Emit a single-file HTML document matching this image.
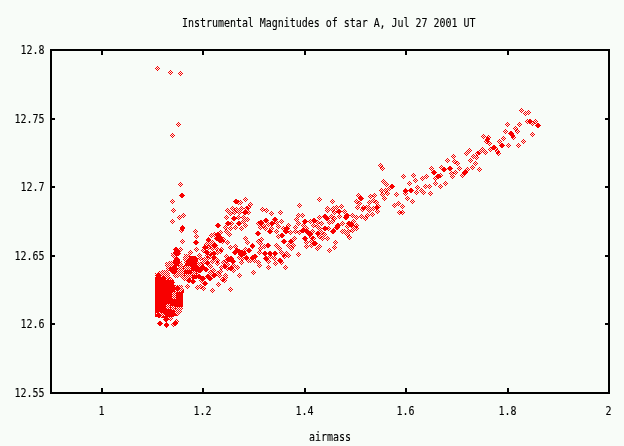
<!DOCTYPE html>
<html><head><meta charset="utf-8"><style>
html,body{margin:0;padding:0;background:#f8fcf8;}
svg{display:block;}
text{font-family:"DejaVu Sans Mono","Liberation Mono",monospace;letter-spacing:-0.02px;font-size:10px;fill:#000;stroke:#000;stroke-width:0.1px;}
</style></head><body>
<svg width="624" height="446" viewBox="0 0 624 446">
<defs>
<pattern id="pe" width="2" height="2" patternUnits="userSpaceOnUse"><rect x="0" y="0" width="1" height="1" fill="#f80000"/><rect x="1" y="1" width="1" height="1" fill="#f80000"/></pattern>
<pattern id="po" width="2" height="2" patternUnits="userSpaceOnUse"><rect x="1" y="0" width="1" height="1" fill="#f80000"/><rect x="0" y="1" width="1" height="1" fill="#f80000"/></pattern>
<pattern id="pb" width="2" height="2" patternUnits="userSpaceOnUse"><rect x="1" y="0" width="1" height="1" fill="#f8fcf8"/><rect x="0" y="1" width="1" height="1" fill="#f8fcf8"/></pattern>
</defs>
<rect width="624" height="446" fill="#f8fcf8"/>
<g shape-rendering="crispEdges">
<rect x="50" y="49" width="560" height="2" fill="#000"/><rect x="50" y="392" width="560" height="2" fill="#000"/><rect x="50" y="49" width="2" height="345" fill="#000"/><rect x="608" y="49" width="2" height="345" fill="#000"/><rect x="52" y="118" width="3" height="2" fill="#000"/><rect x="605" y="118" width="3" height="2" fill="#000"/><rect x="52" y="186" width="3" height="2" fill="#000"/><rect x="605" y="186" width="3" height="2" fill="#000"/><rect x="52" y="255" width="3" height="2" fill="#000"/><rect x="605" y="255" width="3" height="2" fill="#000"/><rect x="52" y="323" width="3" height="2" fill="#000"/><rect x="605" y="323" width="3" height="2" fill="#000"/><rect x="101" y="388" width="2" height="4" fill="#000"/><rect x="101" y="51" width="2" height="4" fill="#000"/><rect x="202" y="388" width="2" height="4" fill="#000"/><rect x="202" y="51" width="2" height="4" fill="#000"/><rect x="304" y="388" width="2" height="4" fill="#000"/><rect x="304" y="51" width="2" height="4" fill="#000"/><rect x="405" y="388" width="2" height="4" fill="#000"/><rect x="405" y="51" width="2" height="4" fill="#000"/><rect x="507" y="388" width="2" height="4" fill="#000"/><rect x="507" y="51" width="2" height="4" fill="#000"/>
</g>
<path fill="#f80000" shape-rendering="crispEdges" d="M155 277 162 277 164 280 173.6 280 173.6 284 175 285 182 285 183.75 289 183.75 291 183 297 183 305 182.5 310 181 313 178 316 170 317 165 318 160 318 155 317zM189 257 195 256 198 259 197 264 200 267.5 199 272 193 272 190 269 186 267 185 264 187 260zM173 252 180 252 180 254 176 256 173 254zM174 258 178 257 180 260 179 266 175 267 173 263zM169 268 174 266 178 268 177 273 172 274 169 271zM189 256 195 256 197 258 197 279 185 279 184 272 183 266 186 263 189 261z"/>
<path fill="url(#pb)" shape-rendering="crispEdges" d="M175 285 182 285 183.75 289 181 291.75 175 291.75zM172 292 176 292 176 298.6 172 298.6zM165.6 303.6 170 303.6 170 308.6 165.6 308.6zM170.6 306 175 306 175 310 170.6 310zM176 307 182.5 307 182.5 313 178 316 175 313zM156 313 160 312 166 315 160 318 156 318zM184 266 190.5 266 190.5 269.5 184 269.5zM192 271 195.5 271 195.5 274.5 192 274.5zM185 274 192 274 192 279 185 279z"/>
<path fill="url(#pe)" shape-rendering="crispEdges" d="M171 253 177 253 177 259 173 259 171 256zM165 262 172 261 175 266 174 271 168 271 165 266zM178 260 182 261 184 268 184 278 180 278 178 270zM158 271 166 270 170 273 170 279 158 279zM184 254 190 254 193 258 190 264 185 264 183 259zM155 273 160 271.5 164 275 164 280 155 277zM172.6 271 180 270 182 274 178 278 174 278 172.6 275z"/>
<path fill="url(#pe)" d="M170.5 69.5l3 3-3 3-3-3zM178.5 121.5l3 3-3 3-3-3zM180.5 181.5l3 3-3 3-3-3zM181.5 192.5l3 3-3 3-3-3zM179.5 214.5l3 3-3 3-3-3zM183.5 212.5l3 3-3 3-3-3zM195.5 228.5l3 3-3 3-3-3zM196.5 233.5l3 3-3 3-3-3zM217.5 222.5l3 3-3 3-3-3zM220.5 229.5l3 3-3 3-3-3zM214.5 231.5l3 3-3 3-3-3zM218.5 233.5l3 3-3 3-3-3zM211.5 232.5l3 3-3 3-3-3zM182.5 225.5l3 3-3 3-3-3zM218.5 231.5l3 3-3 3-3-3zM219.5 234.5l3 3-3 3-3-3zM216.5 235.5l3 3-3 3-3-3zM245.5 196.5l3 3-3 3-3-3zM235.5 198.5l3 3-3 3-3-3zM238.5 199.5l3 3-3 3-3-3zM240.5 199.5l3 3-3 3-3-3zM250.5 201.5l3 3-3 3-3-3zM232.5 205.5l3 3-3 3-3-3zM246.5 205.5l3 3-3 3-3-3zM244.5 209.5l3 3-3 3-3-3zM248.5 209.5l3 3-3 3-3-3zM234.5 209.5l3 3-3 3-3-3zM234.5 215.5l3 3-3 3-3-3zM243.5 214.5l3 3-3 3-3-3zM247.5 216.5l3 3-3 3-3-3zM227.5 220.5l3 3-3 3-3-3zM239.5 220.5l3 3-3 3-3-3zM243.5 218.5l3 3-3 3-3-3zM231.5 220.5l3 3-3 3-3-3zM245.5 222.5l3 3-3 3-3-3zM225.5 224.5l3 3-3 3-3-3zM235.5 224.5l3 3-3 3-3-3zM230.5 225.5l3 3-3 3-3-3zM266.5 207.5l3 3-3 3-3-3zM271.5 210.5l3 3-3 3-3-3zM280.5 209.5l3 3-3 3-3-3zM260.5 219.5l3 3-3 3-3-3zM266.5 217.5l3 3-3 3-3-3zM275.5 216.5l3 3-3 3-3-3zM271.5 220.5l3 3-3 3-3-3zM276.5 219.5l3 3-3 3-3-3zM281.5 218.5l3 3-3 3-3-3zM263.5 222.5l3 3-3 3-3-3zM268.5 221.5l3 3-3 3-3-3zM278.5 223.5l3 3-3 3-3-3zM286.5 225.5l3 3-3 3-3-3zM295.5 224.5l3 3-3 3-3-3zM257.5 230.5l3 3-3 3-3-3zM269.5 228.5l3 3-3 3-3-3zM281.5 232.5l3 3-3 3-3-3zM285.5 228.5l3 3-3 3-3-3zM290.5 229.5l3 3-3 3-3-3zM295.5 228.5l3 3-3 3-3-3zM223.5 236.5l3 3-3 3-3-3zM261.5 236.5l3 3-3 3-3-3zM278.5 233.5l3 3-3 3-3-3zM283.5 238.5l3 3-3 3-3-3zM291.5 238.5l3 3-3 3-3-3zM294.5 235.5l3 3-3 3-3-3zM293.5 242.5l3 3-3 3-3-3zM267.5 242.5l3 3-3 3-3-3zM260.5 245.5l3 3-3 3-3-3zM264.5 243.5l3 3-3 3-3-3zM265.5 250.5l3 3-3 3-3-3zM269.5 250.5l3 3-3 3-3-3zM275.5 250.5l3 3-3 3-3-3zM298.5 251.5l3 3-3 3-3-3zM254.5 253.5l3 3-3 3-3-3zM254.5 257.5l3 3-3 3-3-3zM258.5 259.5l3 3-3 3-3-3zM259.5 262.5l3 3-3 3-3-3zM266.5 255.5l3 3-3 3-3-3zM270.5 253.5l3 3-3 3-3-3zM274.5 255.5l3 3-3 3-3-3zM275.5 260.5l3 3-3 3-3-3zM280.5 257.5l3 3-3 3-3-3zM284.5 253.5l3 3-3 3-3-3zM225.5 274.5l3 3-3 3-3-3zM224.5 277.5l3 3-3 3-3-3zM285.5 264.5l3 3-3 3-3-3zM319.5 196.5l3 3-3 3-3-3zM360.5 195.5l3 3-3 3-3-3zM359.5 200.5l3 3-3 3-3-3zM370.5 193.5l3 3-3 3-3-3zM376.5 199.5l3 3-3 3-3-3zM363.5 204.5l3 3-3 3-3-3zM377.5 204.5l3 3-3 3-3-3zM299.5 202.5l3 3-3 3-3-3zM339.5 208.5l3 3-3 3-3-3zM334.5 209.5l3 3-3 3-3-3zM357.5 204.5l3 3-3 3-3-3zM377.5 208.5l3 3-3 3-3-3zM324.5 213.5l3 3-3 3-3-3zM326.5 215.5l3 3-3 3-3-3zM319.5 214.5l3 3-3 3-3-3zM334.5 215.5l3 3-3 3-3-3zM347.5 212.5l3 3-3 3-3-3zM345.5 214.5l3 3-3 3-3-3zM367.5 212.5l3 3-3 3-3-3zM372.5 211.5l3 3-3 3-3-3zM305.5 218.5l3 3-3 3-3-3zM314.5 217.5l3 3-3 3-3-3zM321.5 220.5l3 3-3 3-3-3zM337.5 222.5l3 3-3 3-3-3zM337.5 224.5l3 3-3 3-3-3zM349.5 220.5l3 3-3 3-3-3zM353.5 218.5l3 3-3 3-3-3zM352.5 223.5l3 3-3 3-3-3zM303.5 222.5l3 3-3 3-3-3zM306.5 225.5l3 3-3 3-3-3zM313.5 222.5l3 3-3 3-3-3zM324.5 225.5l3 3-3 3-3-3zM328.5 225.5l3 3-3 3-3-3zM302.5 227.5l3 3-3 3-3-3zM307.5 228.5l3 3-3 3-3-3zM310.5 231.5l3 3-3 3-3-3zM317.5 230.5l3 3-3 3-3-3zM324.5 231.5l3 3-3 3-3-3zM333.5 228.5l3 3-3 3-3-3zM352.5 227.5l3 3-3 3-3-3zM356.5 225.5l3 3-3 3-3-3zM349.5 234.5l3 3-3 3-3-3zM304.5 235.5l3 3-3 3-3-3zM311.5 234.5l3 3-3 3-3-3zM322.5 235.5l3 3-3 3-3-3zM306.5 239.5l3 3-3 3-3-3zM311.5 238.5l3 3-3 3-3-3zM315.5 240.5l3 3-3 3-3-3zM306.5 243.5l3 3-3 3-3-3zM311.5 242.5l3 3-3 3-3-3zM382.5 165.5l3 3-3 3-3-3zM413.5 172.5l3 3-3 3-3-3zM422.5 175.5l3 3-3 3-3-3zM426.5 173.5l3 3-3 3-3-3zM434.5 169.5l3 3-3 3-3-3zM438.5 173.5l3 3-3 3-3-3zM441.5 164.5l3 3-3 3-3-3zM443.5 166.5l3 3-3 3-3-3zM450.5 165.5l3 3-3 3-3-3zM451.5 170.5l3 3-3 3-3-3zM452.5 173.5l3 3-3 3-3-3zM435.5 180.5l3 3-3 3-3-3zM440.5 183.5l3 3-3 3-3-3zM445.5 180.5l3 3-3 3-3-3zM417.5 184.5l3 3-3 3-3-3zM416.5 189.5l3 3-3 3-3-3zM410.5 187.5l3 3-3 3-3-3zM409.5 180.5l3 3-3 3-3-3zM405.5 188.5l3 3-3 3-3-3zM405.5 190.5l3 3-3 3-3-3zM396.5 191.5l3 3-3 3-3-3zM383.5 178.5l3 3-3 3-3-3zM386.5 181.5l3 3-3 3-3-3zM392.5 183.5l3 3-3 3-3-3zM382.5 191.5l3 3-3 3-3-3zM387.5 190.5l3 3-3 3-3-3zM384.5 195.5l3 3-3 3-3-3zM402.5 203.5l3 3-3 3-3-3zM402.5 209.5l3 3-3 3-3-3zM378.5 203.5l3 3-3 3-3-3zM525.5 110.5l3 3-3 3-3-3zM528.5 109.5l3 3-3 3-3-3zM527.5 118.5l3 3-3 3-3-3zM529.5 118.5l3 3-3 3-3-3zM532.5 131.5l3 3-3 3-3-3zM517.5 128.5l3 3-3 3-3-3zM505.5 128.5l3 3-3 3-3-3zM511.5 130.5l3 3-3 3-3-3zM513.5 134.5l3 3-3 3-3-3zM523.5 138.5l3 3-3 3-3-3zM499.5 138.5l3 3-3 3-3-3zM501.5 142.5l3 3-3 3-3-3zM487.5 136.5l3 3-3 3-3-3zM489.5 140.5l3 3-3 3-3-3zM493.5 144.5l3 3-3 3-3-3zM497.5 148.5l3 3-3 3-3-3zM477.5 150.5l3 3-3 3-3-3zM470.5 157.5l3 3-3 3-3-3zM475.5 160.5l3 3-3 3-3-3zM479.5 166.5l3 3-3 3-3-3zM467.5 166.5l3 3-3 3-3-3zM464.5 169.5l3 3-3 3-3-3zM457.5 160.5l3 3-3 3-3-3zM535.5 118.5l3 3-3 3-3-3zM537.5 122.5l3 3-3 3-3-3zM196.5 239.5l3 3-3 3-3-3zM175.5 246.5l3 3-3 3-3-3zM190.5 249.5l3 3-3 3-3-3zM199.5 252.5l3 3-3 3-3-3zM196.5 259.5l3 3-3 3-3-3zM200.5 255.5l3 3-3 3-3-3zM200.5 261.5l3 3-3 3-3-3zM196.5 263.5l3 3-3 3-3-3zM176.5 247.5l3 3-3 3-3-3zM177.5 248.5l3 3-3 3-3-3zM177.5 250.5l3 3-3 3-3-3zM208.5 237.5l3 3-3 3-3-3zM212.5 239.5l3 3-3 3-3-3zM220.5 237.5l3 3-3 3-3-3zM206.5 241.5l3 3-3 3-3-3zM210.5 241.5l3 3-3 3-3-3zM215.5 242.5l3 3-3 3-3-3zM205.5 244.5l3 3-3 3-3-3zM212.5 245.5l3 3-3 3-3-3zM216.5 245.5l3 3-3 3-3-3zM221.5 246.5l3 3-3 3-3-3zM252.5 243.5l3 3-3 3-3-3zM236.5 247.5l3 3-3 3-3-3zM242.5 249.5l3 3-3 3-3-3zM245.5 246.5l3 3-3 3-3-3zM248.5 247.5l3 3-3 3-3-3zM234.5 249.5l3 3-3 3-3-3zM206.5 249.5l3 3-3 3-3-3zM213.5 250.5l3 3-3 3-3-3zM207.5 252.5l3 3-3 3-3-3zM210.5 253.5l3 3-3 3-3-3zM213.5 254.5l3 3-3 3-3-3zM226.5 253.5l3 3-3 3-3-3zM230.5 255.5l3 3-3 3-3-3zM232.5 257.5l3 3-3 3-3-3zM239.5 254.5l3 3-3 3-3-3zM242.5 255.5l3 3-3 3-3-3zM246.5 255.5l3 3-3 3-3-3zM250.5 257.5l3 3-3 3-3-3zM253.5 254.5l3 3-3 3-3-3zM207.5 260.5l3 3-3 3-3-3zM217.5 260.5l3 3-3 3-3-3zM226.5 257.5l3 3-3 3-3-3zM233.5 262.5l3 3-3 3-3-3zM237.5 264.5l3 3-3 3-3-3zM248.5 257.5l3 3-3 3-3-3zM203.5 264.5l3 3-3 3-3-3zM210.5 263.5l3 3-3 3-3-3zM221.5 264.5l3 3-3 3-3-3zM224.5 263.5l3 3-3 3-3-3zM230.5 265.5l3 3-3 3-3-3zM225.5 272.5l3 3-3 3-3-3zM239.5 272.5l3 3-3 3-3-3zM239.5 248.5l3 3-3 3-3-3zM243.5 250.5l3 3-3 3-3-3zM240.5 251.5l3 3-3 3-3-3zM229.5 256.5l3 3-3 3-3-3zM233.5 258.5l3 3-3 3-3-3zM166.5 277.5l3 3-3 3-3-3zM184.5 275.5l3 3-3 3-3-3zM188.5 277.5l3 3-3 3-3-3zM193.5 278.5l3 3-3 3-3-3zM197.5 268.5l3 3-3 3-3-3zM198.5 273.5l3 3-3 3-3-3zM205.5 280.5l3 3-3 3-3-3zM202.5 275.5l3 3-3 3-3-3zM200.5 267.5l3 3-3 3-3-3zM205.5 266.5l3 3-3 3-3-3zM208.5 273.5l3 3-3 3-3-3zM210.5 275.5l3 3-3 3-3-3zM210.5 269.5l3 3-3 3-3-3zM213.5 272.5l3 3-3 3-3-3zM217.5 270.5l3 3-3 3-3-3zM219.5 272.5l3 3-3 3-3-3zM218.5 281.5l3 3-3 3-3-3zM200.5 283.5l3 3-3 3-3-3zM197.5 284.5l3 3-3 3-3-3zM212.5 287.5l3 3-3 3-3-3zM179.5 284.5l3 3-3 3-3-3zM181.5 286.5l3 3-3 3-3-3zM172.5 279.5l3 3-3 3-3-3zM159.5 320.5l3 3-3 3-3-3zM165.5 316.5l3 3-3 3-3-3zM166.5 321.5l3 3-3 3-3-3zM175.5 320.5l3 3-3 3-3-3zM170.5 315.5l3 3-3 3-3-3z"/>
<path fill="url(#po)" d="M157.5 65.5l3 3-3 3-3-3zM180.5 70.5l3 3-3 3-3-3zM172.5 132.5l3 3-3 3-3-3zM182.5 192.5l3 3-3 3-3-3zM172.5 198.5l3 3-3 3-3-3zM173.5 207.5l3 3-3 3-3-3zM172.5 218.5l3 3-3 3-3-3zM218.5 222.5l3 3-3 3-3-3zM208.5 236.5l3 3-3 3-3-3zM182.5 224.5l3 3-3 3-3-3zM181.5 227.5l3 3-3 3-3-3zM217.5 231.5l3 3-3 3-3-3zM220.5 234.5l3 3-3 3-3-3zM217.5 235.5l3 3-3 3-3-3zM236.5 198.5l3 3-3 3-3-3zM248.5 204.5l3 3-3 3-3-3zM227.5 207.5l3 3-3 3-3-3zM236.5 206.5l3 3-3 3-3-3zM241.5 205.5l3 3-3 3-3-3zM245.5 209.5l3 3-3 3-3-3zM230.5 210.5l3 3-3 3-3-3zM239.5 209.5l3 3-3 3-3-3zM226.5 214.5l3 3-3 3-3-3zM233.5 215.5l3 3-3 3-3-3zM238.5 214.5l3 3-3 3-3-3zM228.5 220.5l3 3-3 3-3-3zM238.5 220.5l3 3-3 3-3-3zM241.5 225.5l3 3-3 3-3-3zM262.5 206.5l3 3-3 3-3-3zM261.5 219.5l3 3-3 3-3-3zM258.5 220.5l3 3-3 3-3-3zM265.5 217.5l3 3-3 3-3-3zM274.5 216.5l3 3-3 3-3-3zM272.5 220.5l3 3-3 3-3-3zM260.5 224.5l3 3-3 3-3-3zM288.5 222.5l3 3-3 3-3-3zM287.5 225.5l3 3-3 3-3-3zM283.5 225.5l3 3-3 3-3-3zM265.5 225.5l3 3-3 3-3-3zM271.5 225.5l3 3-3 3-3-3zM298.5 212.5l3 3-3 3-3-3zM296.5 216.5l3 3-3 3-3-3zM298.5 220.5l3 3-3 3-3-3zM226.5 228.5l3 3-3 3-3-3zM229.5 231.5l3 3-3 3-3-3zM258.5 230.5l3 3-3 3-3-3zM270.5 228.5l3 3-3 3-3-3zM276.5 228.5l3 3-3 3-3-3zM282.5 232.5l3 3-3 3-3-3zM286.5 228.5l3 3-3 3-3-3zM299.5 229.5l3 3-3 3-3-3zM245.5 235.5l3 3-3 3-3-3zM258.5 238.5l3 3-3 3-3-3zM284.5 238.5l3 3-3 3-3-3zM290.5 238.5l3 3-3 3-3-3zM276.5 242.5l3 3-3 3-3-3zM268.5 242.5l3 3-3 3-3-3zM260.5 240.5l3 3-3 3-3-3zM259.5 249.5l3 3-3 3-3-3zM264.5 250.5l3 3-3 3-3-3zM270.5 250.5l3 3-3 3-3-3zM274.5 250.5l3 3-3 3-3-3zM279.5 245.5l3 3-3 3-3-3zM281.5 249.5l3 3-3 3-3-3zM286.5 250.5l3 3-3 3-3-3zM291.5 245.5l3 3-3 3-3-3zM288.5 242.5l3 3-3 3-3-3zM255.5 253.5l3 3-3 3-3-3zM265.5 255.5l3 3-3 3-3-3zM268.5 258.5l3 3-3 3-3-3zM279.5 257.5l3 3-3 3-3-3zM281.5 259.5l3 3-3 3-3-3zM288.5 252.5l3 3-3 3-3-3zM268.5 264.5l3 3-3 3-3-3zM230.5 286.5l3 3-3 3-3-3zM332.5 198.5l3 3-3 3-3-3zM358.5 192.5l3 3-3 3-3-3zM361.5 195.5l3 3-3 3-3-3zM356.5 198.5l3 3-3 3-3-3zM374.5 192.5l3 3-3 3-3-3zM373.5 197.5l3 3-3 3-3-3zM369.5 199.5l3 3-3 3-3-3zM341.5 203.5l3 3-3 3-3-3zM336.5 204.5l3 3-3 3-3-3zM327.5 205.5l3 3-3 3-3-3zM332.5 206.5l3 3-3 3-3-3zM368.5 204.5l3 3-3 3-3-3zM327.5 207.5l3 3-3 3-3-3zM333.5 205.5l3 3-3 3-3-3zM338.5 208.5l3 3-3 3-3-3zM344.5 208.5l3 3-3 3-3-3zM362.5 206.5l3 3-3 3-3-3zM366.5 204.5l3 3-3 3-3-3zM369.5 207.5l3 3-3 3-3-3zM373.5 205.5l3 3-3 3-3-3zM376.5 204.5l3 3-3 3-3-3zM302.5 212.5l3 3-3 3-3-3zM325.5 213.5l3 3-3 3-3-3zM327.5 215.5l3 3-3 3-3-3zM331.5 213.5l3 3-3 3-3-3zM339.5 213.5l3 3-3 3-3-3zM346.5 212.5l3 3-3 3-3-3zM346.5 214.5l3 3-3 3-3-3zM352.5 212.5l3 3-3 3-3-3zM356.5 214.5l3 3-3 3-3-3zM361.5 213.5l3 3-3 3-3-3zM365.5 215.5l3 3-3 3-3-3zM304.5 218.5l3 3-3 3-3-3zM310.5 218.5l3 3-3 3-3-3zM313.5 217.5l3 3-3 3-3-3zM317.5 219.5l3 3-3 3-3-3zM329.5 219.5l3 3-3 3-3-3zM332.5 218.5l3 3-3 3-3-3zM338.5 222.5l3 3-3 3-3-3zM336.5 224.5l3 3-3 3-3-3zM342.5 220.5l3 3-3 3-3-3zM348.5 220.5l3 3-3 3-3-3zM351.5 221.5l3 3-3 3-3-3zM356.5 222.5l3 3-3 3-3-3zM347.5 223.5l3 3-3 3-3-3zM317.5 223.5l3 3-3 3-3-3zM325.5 225.5l3 3-3 3-3-3zM319.5 225.5l3 3-3 3-3-3zM333.5 227.5l3 3-3 3-3-3zM303.5 227.5l3 3-3 3-3-3zM306.5 228.5l3 3-3 3-3-3zM309.5 231.5l3 3-3 3-3-3zM312.5 228.5l3 3-3 3-3-3zM318.5 230.5l3 3-3 3-3-3zM321.5 229.5l3 3-3 3-3-3zM332.5 228.5l3 3-3 3-3-3zM342.5 228.5l3 3-3 3-3-3zM344.5 228.5l3 3-3 3-3-3zM348.5 228.5l3 3-3 3-3-3zM347.5 231.5l3 3-3 3-3-3zM305.5 235.5l3 3-3 3-3-3zM313.5 235.5l3 3-3 3-3-3zM319.5 233.5l3 3-3 3-3-3zM327.5 235.5l3 3-3 3-3-3zM314.5 240.5l3 3-3 3-3-3zM319.5 243.5l3 3-3 3-3-3zM317.5 245.5l3 3-3 3-3-3zM335.5 239.5l3 3-3 3-3-3zM334.5 244.5l3 3-3 3-3-3zM329.5 247.5l3 3-3 3-3-3zM283.5 251.5l3 3-3 3-3-3zM380.5 162.5l3 3-3 3-3-3zM403.5 173.5l3 3-3 3-3-3zM415.5 177.5l3 3-3 3-3-3zM431.5 165.5l3 3-3 3-3-3zM433.5 169.5l3 3-3 3-3-3zM437.5 173.5l3 3-3 3-3-3zM435.5 175.5l3 3-3 3-3-3zM444.5 166.5l3 3-3 3-3-3zM440.5 172.5l3 3-3 3-3-3zM449.5 165.5l3 3-3 3-3-3zM447.5 157.5l3 3-3 3-3-3zM453.5 153.5l3 3-3 3-3-3zM454.5 158.5l3 3-3 3-3-3zM455.5 169.5l3 3-3 3-3-3zM430.5 190.5l3 3-3 3-3-3zM425.5 183.5l3 3-3 3-3-3zM429.5 183.5l3 3-3 3-3-3zM421.5 187.5l3 3-3 3-3-3zM423.5 189.5l3 3-3 3-3-3zM411.5 187.5l3 3-3 3-3-3zM405.5 187.5l3 3-3 3-3-3zM407.5 195.5l3 3-3 3-3-3zM412.5 198.5l3 3-3 3-3-3zM398.5 200.5l3 3-3 3-3-3zM391.5 183.5l3 3-3 3-3-3zM389.5 185.5l3 3-3 3-3-3zM381.5 187.5l3 3-3 3-3-3zM385.5 187.5l3 3-3 3-3-3zM394.5 202.5l3 3-3 3-3-3zM399.5 209.5l3 3-3 3-3-3zM521.5 107.5l3 3-3 3-3-3zM530.5 118.5l3 3-3 3-3-3zM532.5 120.5l3 3-3 3-3-3zM519.5 121.5l3 3-3 3-3-3zM515.5 125.5l3 3-3 3-3-3zM507.5 121.5l3 3-3 3-3-3zM510.5 130.5l3 3-3 3-3-3zM512.5 132.5l3 3-3 3-3-3zM518.5 142.5l3 3-3 3-3-3zM508.5 142.5l3 3-3 3-3-3zM503.5 135.5l3 3-3 3-3-3zM502.5 142.5l3 3-3 3-3-3zM483.5 133.5l3 3-3 3-3-3zM488.5 134.5l3 3-3 3-3-3zM486.5 138.5l3 3-3 3-3-3zM494.5 144.5l3 3-3 3-3-3zM490.5 146.5l3 3-3 3-3-3zM495.5 145.5l3 3-3 3-3-3zM498.5 150.5l3 3-3 3-3-3zM482.5 146.5l3 3-3 3-3-3zM485.5 149.5l3 3-3 3-3-3zM479.5 149.5l3 3-3 3-3-3zM469.5 147.5l3 3-3 3-3-3zM466.5 150.5l3 3-3 3-3-3zM473.5 153.5l3 3-3 3-3-3zM476.5 154.5l3 3-3 3-3-3zM472.5 164.5l3 3-3 3-3-3zM465.5 169.5l3 3-3 3-3-3zM462.5 172.5l3 3-3 3-3-3zM459.5 165.5l3 3-3 3-3-3zM538.5 122.5l3 3-3 3-3-3zM182.5 238.5l3 3-3 3-3-3zM195.5 239.5l3 3-3 3-3-3zM196.5 246.5l3 3-3 3-3-3zM177.5 247.5l3 3-3 3-3-3zM180.5 246.5l3 3-3 3-3-3zM158.5 272.5l3 3-3 3-3-3zM176.5 246.5l3 3-3 3-3-3zM176.5 248.5l3 3-3 3-3-3zM178.5 250.5l3 3-3 3-3-3zM219.5 237.5l3 3-3 3-3-3zM222.5 238.5l3 3-3 3-3-3zM227.5 239.5l3 3-3 3-3-3zM247.5 239.5l3 3-3 3-3-3zM214.5 242.5l3 3-3 3-3-3zM204.5 244.5l3 3-3 3-3-3zM208.5 244.5l3 3-3 3-3-3zM230.5 244.5l3 3-3 3-3-3zM235.5 243.5l3 3-3 3-3-3zM252.5 242.5l3 3-3 3-3-3zM237.5 247.5l3 3-3 3-3-3zM241.5 249.5l3 3-3 3-3-3zM249.5 247.5l3 3-3 3-3-3zM235.5 249.5l3 3-3 3-3-3zM203.5 247.5l3 3-3 3-3-3zM207.5 249.5l3 3-3 3-3-3zM210.5 250.5l3 3-3 3-3-3zM214.5 250.5l3 3-3 3-3-3zM217.5 249.5l3 3-3 3-3-3zM220.5 248.5l3 3-3 3-3-3zM214.5 254.5l3 3-3 3-3-3zM204.5 256.5l3 3-3 3-3-3zM207.5 255.5l3 3-3 3-3-3zM217.5 257.5l3 3-3 3-3-3zM231.5 255.5l3 3-3 3-3-3zM246.5 254.5l3 3-3 3-3-3zM252.5 254.5l3 3-3 3-3-3zM203.5 259.5l3 3-3 3-3-3zM207.5 259.5l3 3-3 3-3-3zM212.5 258.5l3 3-3 3-3-3zM223.5 259.5l3 3-3 3-3-3zM227.5 261.5l3 3-3 3-3-3zM241.5 259.5l3 3-3 3-3-3zM202.5 264.5l3 3-3 3-3-3zM225.5 263.5l3 3-3 3-3-3zM227.5 265.5l3 3-3 3-3-3zM231.5 265.5l3 3-3 3-3-3zM233.5 267.5l3 3-3 3-3-3zM253.5 269.5l3 3-3 3-3-3zM238.5 248.5l3 3-3 3-3-3zM244.5 250.5l3 3-3 3-3-3zM241.5 251.5l3 3-3 3-3-3zM228.5 256.5l3 3-3 3-3-3zM232.5 258.5l3 3-3 3-3-3zM170.5 276.5l3 3-3 3-3-3zM163.5 275.5l3 3-3 3-3-3zM189.5 277.5l3 3-3 3-3-3zM192.5 278.5l3 3-3 3-3-3zM199.5 273.5l3 3-3 3-3-3zM201.5 277.5l3 3-3 3-3-3zM204.5 280.5l3 3-3 3-3-3zM203.5 275.5l3 3-3 3-3-3zM199.5 267.5l3 3-3 3-3-3zM206.5 266.5l3 3-3 3-3-3zM207.5 273.5l3 3-3 3-3-3zM209.5 275.5l3 3-3 3-3-3zM213.5 267.5l3 3-3 3-3-3zM214.5 272.5l3 3-3 3-3-3zM220.5 268.5l3 3-3 3-3-3zM222.5 276.5l3 3-3 3-3-3zM203.5 285.5l3 3-3 3-3-3zM187.5 283.5l3 3-3 3-3-3zM177.5 285.5l3 3-3 3-3-3zM160.5 320.5l3 3-3 3-3-3zM166.5 316.5l3 3-3 3-3-3zM166.5 322.5l3 3-3 3-3-3zM176.5 318.5l3 3-3 3-3-3zM158.5 312.5l3 3-3 3-3-3zM173.5 321.5l3 3-3 3-3-3z"/>
<text transform="translate(182 27) scale(1 1.25)" text-anchor="start">Instrumental Magnitudes of star A, Jul 27 2001 UT</text><text transform="translate(44.5 53.6) scale(1 1.25)" text-anchor="end">12.8</text><text transform="translate(44.5 122.6) scale(1 1.25)" text-anchor="end">12.75</text><text transform="translate(44.5 190.6) scale(1 1.25)" text-anchor="end">12.7</text><text transform="translate(44.5 259.6) scale(1 1.25)" text-anchor="end">12.65</text><text transform="translate(44.5 327.6) scale(1 1.25)" text-anchor="end">12.6</text><text transform="translate(44.5 396.6) scale(1 1.25)" text-anchor="end">12.55</text><text transform="translate(101.5 415) scale(1 1.25)" text-anchor="middle">1</text><text transform="translate(202.5 415) scale(1 1.25)" text-anchor="middle">1.2</text><text transform="translate(304.5 415) scale(1 1.25)" text-anchor="middle">1.4</text><text transform="translate(405.5 415) scale(1 1.25)" text-anchor="middle">1.6</text><text transform="translate(507.5 415) scale(1 1.25)" text-anchor="middle">1.8</text><text transform="translate(608.5 415) scale(1 1.25)" text-anchor="middle">2</text><text transform="translate(330 441) scale(1 1.25)" text-anchor="middle">airmass</text>
</svg>
</body></html>
